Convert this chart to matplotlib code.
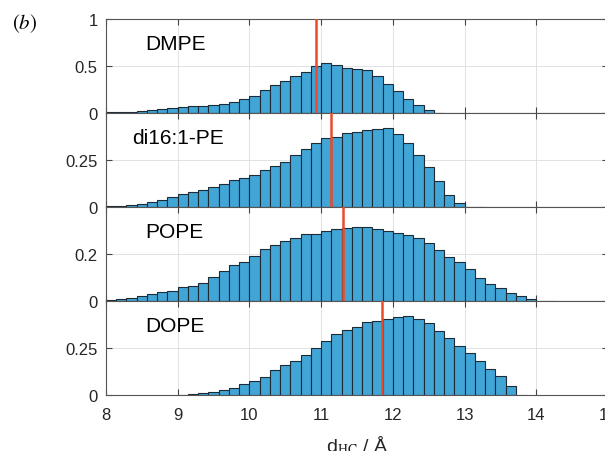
import numpy as np
import matplotlib.pyplot as plt

plt.rcParams['font.family'] = ['Liberation Sans', 'DejaVu Sans']
plt.rcParams['mathtext.fontset'] = 'stix'

# bins: 8 .. 15 A, 7 bins per angstrom
bin_edges = np.linspace(8, 15, 50)

names = ['DMPE', 'di16:1-PE', 'POPE', 'DOPE']

dmpe = [0.011, 0.007, 0.011, 0.018, 0.029, 0.039, 0.054,
        0.064, 0.071, 0.079, 0.089, 0.096, 0.118, 0.154,
        0.182, 0.250, 0.300, 0.343, 0.396, 0.432, 0.496,
        0.532, 0.507, 0.482, 0.468, 0.454, 0.393, 0.307,
        0.236, 0.150, 0.086, 0.032, 0.004, 0, 0,
        0, 0, 0, 0, 0, 0, 0,
        0, 0, 0, 0, 0, 0, 0]
di16 = [0.004, 0.005, 0.009, 0.016, 0.025, 0.039, 0.054,
        0.070, 0.082, 0.088, 0.109, 0.121, 0.141, 0.155,
        0.171, 0.198, 0.218, 0.239, 0.277, 0.307, 0.343,
        0.368, 0.370, 0.394, 0.401, 0.408, 0.415, 0.421,
        0.386, 0.339, 0.277, 0.214, 0.139, 0.066, 0.021,
        0.002, 0.001, 0, 0, 0, 0, 0,
        0, 0, 0, 0, 0, 0, 0]
pope = [0.004, 0.008, 0.014, 0.020, 0.031, 0.038, 0.042,
        0.059, 0.062, 0.076, 0.101, 0.127, 0.152, 0.166,
        0.193, 0.223, 0.238, 0.254, 0.268, 0.285, 0.287,
        0.296, 0.306, 0.310, 0.315, 0.314, 0.306, 0.299,
        0.289, 0.279, 0.266, 0.246, 0.217, 0.187, 0.168,
        0.138, 0.100, 0.073, 0.054, 0.034, 0.023, 0.008,
        0.0015, 0.001, 0, 0, 0, 0, 0]
dope = [0, 0, 0, 0, 0, 0, 0,
        0.002, 0.004, 0.009, 0.018, 0.027, 0.039, 0.057,
        0.074, 0.096, 0.131, 0.160, 0.179, 0.211, 0.252,
        0.289, 0.324, 0.346, 0.360, 0.387, 0.395, 0.402,
        0.415, 0.420, 0.404, 0.381, 0.342, 0.301, 0.262,
        0.223, 0.179, 0.138, 0.103, 0.046, 0.002, 0,
        0, 0, 0, 0, 0, 0, 0]

# mean thickness (red lines)
means = [10.93, 11.14, 11.31, 11.85]

ylims = [1.0, 0.5, 0.4, 0.5]
yticks = [[0, 0.5, 1], [0, 0.25], [0, 0.2], [0, 0.25]]
ytick_labels = [['0', '0.5', '1'], ['0', '0.25'], ['0', '0.2'], ['0', '0.25']]
xticks = [8, 9, 10, 11, 12, 13, 14, 15]

fig = plt.figure(figsize=(6.05, 4.52), dpi=100)

# axes box in pixels: left 106, right 608 (slightly cut), top 20, bottom 396
left, width = 106 / 605, 502 / 605
h = 94 / 452
top = 1 - 20 / 452

data = [dmpe, di16, pope, dope]
w = bin_edges[1] - bin_edges[0]
for i in range(4):
    ax = fig.add_axes([left, top - (i + 1) * h, width, h])
    vals = np.array(data[i])
    m = vals > 0
    ax.bar(bin_edges[:-1][m], vals[m], width=w, align='edge',
           color='#41a5d6', edgecolor='#1d2b36', linewidth=0.8, zorder=2)
    ax.axvline(means[i], color='#ec4a2a', linewidth=1.8, zorder=3)
    ax.set_xlim(8, 15)
    ax.set_ylim(0, ylims[i])
    ax.set_xticks(xticks)
    ax.set_yticks(yticks[i])
    ax.set_yticklabels(ytick_labels[i])
    ax.grid(True, color='#dddddd', linewidth=0.6, zorder=0)
    ax.set_axisbelow(True)
    ax.tick_params(direction='in', top=True, right=True, length=4, pad=6,
                   labelsize=12, color='#444444', labelcolor='#262626')
    ax.tick_params(axis='x', pad=9)
    for s in ax.spines.values():
        s.set_color('#555555')
        s.set_linewidth(0.8)
    x_lab = 0.053 if names[i] == 'di16:1-PE' else 0.078
    ax.text(x_lab, 0.74, names[i], transform=ax.transAxes, fontsize=15,
            va='center', ha='left')
    if i < 3:
        ax.set_xticklabels([])
    else:
        ax.set_xticklabels([str(t) for t in xticks])
        ax.set_xlabel(r'd$_{\mathrm{HC}}$ / Å', fontsize=14, labelpad=8,
                      color='#262626', family=['Liberation Sans', 'DejaVu Sans'])

fig.text(25 / 605, 1 - 24 / 452, r'$(b)$', fontsize=15, ha='center', va='center')

plt.savefig('out.png', dpi=100)
